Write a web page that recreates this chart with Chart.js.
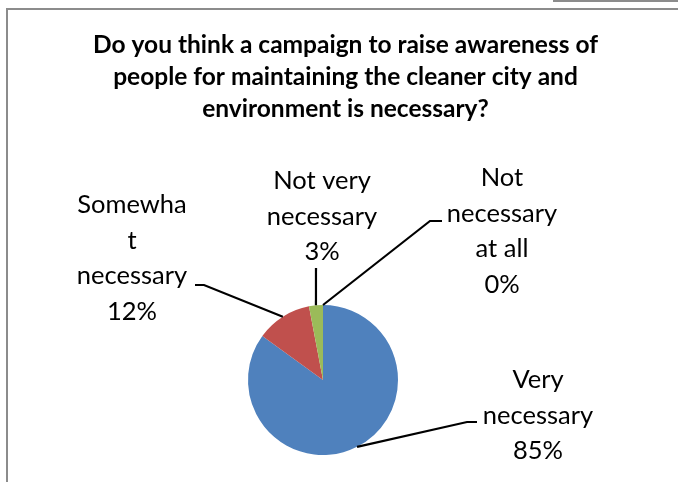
<!DOCTYPE html>
<html>
<head>
<meta charset="utf-8">
<script src="https://cdn.jsdelivr.net/npm/chart.js@4.4.1/dist/chart.umd.min.js"></script>
<style>
  html, body { margin: 0; padding: 0; background: #ffffff; overflow: hidden; }
  #wrap { position: relative; width: 678px; height: 482px; }
  #frame { position: absolute; left: 6px; top: 8px; width: 700px; height: 500px; border: 2px solid #8c8c8c; box-sizing: border-box; }
  #topbox { position: absolute; left: 553px; top: -8px; width: 200px; height: 10px; border: 2px solid #8c8c8c; box-sizing: border-box; }
  canvas { position: absolute; left: 0; top: 0; }
</style>
</head>
<body>
<div id="wrap">
  <div id="topbox"></div>
  <div id="frame"></div>
  <canvas id="c" width="678" height="482"></canvas>
</div>
<script>
// ---- data ----
const categories = ["Very necessary", "Somewhat necessary", "Not very necessary", "Not necessary at all"];
const values = [85, 12, 3, 0];
const labelLines = [["Very", "necessary"], ["Somewha", "t", "necessary"], ["Not very", "necessary"], ["Not", "necessary", "at all"]];
const sliceColors = ["#4F81BD", "#C0504D", "#9BBB59", "#8064A2"];
const titleLines = ["Do you think a campaign to raise awareness of", "people for maintaining the cleaner city and", "environment is necessary?"];

// label placement (offsets relative to pie centre)
const labelPlacement = [
  { cx: 215, by: 8,    pts: [[144, 42], [154, 42]] },
  { cx: -191, by: -167, pts: [[-119, -95], [-128, -95]] },
  { cx: -1,  by: -191, pts: [[-7, -112]] },
  { cx: 179, by: -194, pts: [[107, -159], [119, -159]] }
];

const shiftTitle = {
  id: 'shiftTitle',
  afterLayout(chart, args, opts) {
    const t = chart.titleBlock;
    if (t) { t.left += opts.dx; t.right += opts.dx; }
  }
};

const leaderLabels = {
  id: 'leaderLabels',
  afterDatasetsDraw(chart, args, opts) {
    const ctx = chart.ctx;
    const meta = chart.getDatasetMeta(0);
    const data = chart.data.datasets[0].data;
    const total = data.reduce((a, b) => a + b, 0);
    ctx.save();
    meta.data.forEach((arc, i) => {
      const p = arc.getProps(['x', 'y', 'startAngle', 'endAngle', 'outerRadius'], true);
      const mid = (p.startAngle + p.endAngle) / 2;
      const sx = p.x + p.outerRadius * Math.cos(mid);
      const sy = p.y + p.outerRadius * Math.sin(mid);
      const pl = opts.placement[i];
      ctx.beginPath();
      ctx.moveTo(sx, sy);
      pl.pts.forEach(q => ctx.lineTo(p.x + q[0], p.y + q[1]));
      ctx.strokeStyle = '#000000';
      ctx.lineWidth = 2.2;
      ctx.stroke();
      const lines = opts.lines[i].concat([Math.round(data[i] / total * 100) + '%']);
      ctx.fillStyle = '#000000';
      ctx.font = opts.font;
      ctx.textAlign = 'center';
      ctx.textBaseline = 'alphabetic';
      lines.forEach((s, k) => ctx.fillText(s, p.x + pl.cx, p.y + pl.by + k * opts.lineHeight));
    });
    ctx.restore();
  }
};

new Chart(document.getElementById('c'), {
  type: 'pie',
  data: {
    labels: categories,
    datasets: [{
      data: values,
      backgroundColor: sliceColors,
      borderWidth: 0,
      radius: 75
    }]
  },
  options: {
    responsive: false,
    animation: false,
    events: [],
    layout: { padding: { left: 0, right: 32, top: 0, bottom: 0 } },
    plugins: {
      legend: { display: false },
      tooltip: { enabled: false },
      title: {
        display: true,
        text: titleLines,
        color: '#000000',
        font: { family: 'Lato', size: 24.5, weight: 'bold', lineHeight: '32px' },
        padding: { top: 29.5, bottom: 152.5 }
      },
      shiftTitle: { dx: 22.5 },
      leaderLabels: {
        placement: labelPlacement,
        lines: labelLines,
        font: '25.5px Lato',
        lineHeight: 35.5
      }
    }
  },
  plugins: [shiftTitle, leaderLabels]
});
</script>
</body>
</html>
